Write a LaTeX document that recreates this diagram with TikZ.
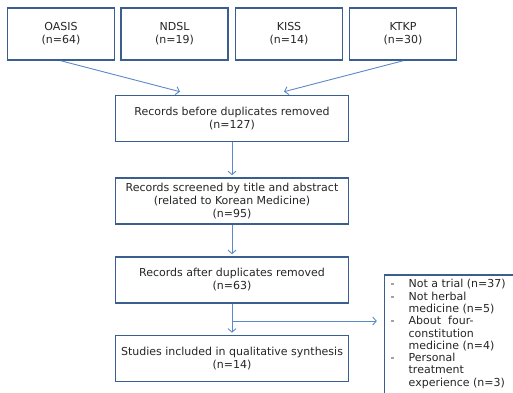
\documentclass[tikz,border=0pt]{standalone}
\usepackage{fontspec}
\setmainfont{DejaVu Sans}
\usetikzlibrary{arrows.meta}
\definecolor{boxc}{HTML}{3A5F8E}
\definecolor{arrc}{HTML}{5B8AC6}
\begin{document}
\begin{tikzpicture}[x=1pt,y=-1pt,
  box/.style={draw=boxc,line width=1.6pt,inner sep=0pt,align=center,
    font=\fontsize{11}{13}\selectfont,text=black!85},
  srcbox/.style={box,minimum width=107pt,minimum height=52pt},
  mainbox/.style={box,minimum width=233pt,minimum height=46pt},
  arr/.style={draw=arrc,line width=0.9pt,-{Straight Barb[length=3.5pt,width=8pt]}}]
\clip (0,0) rectangle (513,392);
\fill[white] (0,0) rectangle (513,392);
\node[srcbox] (oasis) at (61,34) {OASIS\\(n=64)};
\node[srcbox] (ndsl) at (174.5,34) {NDSL\\(n=19)};
\node[srcbox] (kiss) at (289,34) {KISS\\(n=14)};
\node[srcbox] (ktkp) at (403,34) {KTKP\\(n=30)};
\node[mainbox] (rec) at (232,118.5) {Records before duplicates removed\\(n=127)};
\node[mainbox] (scr) at (232,201) {Records screened by title and abstract\\(related to Korean Medicine)\\(n=95)};
\node[mainbox] (aft) at (232,280) {Records after duplicates removed\\(n=63)};
\node[mainbox] (inc) at (232,358.5) {Studies included in qualitative synthesis\\(n=14)};
\node[box,anchor=north west,minimum width=170pt,minimum height=150pt] (excl) at (383.8,274) {};
\node[anchor=north west,inner sep=0pt,font=\fontsize{11}{12.3}\selectfont,text=black!85] (excltext) at (390.5,279)
  {\renewcommand{\arraystretch}{1}\begin{tabular}{@{}l@{\hspace{14pt}}l@{}}
  - & Not a trial (n=37)\\
  - & Not herbal\\
    & medicine (n=5)\\
  - & About\ \ four-\\
    & constitution\\
    & medicine (n=4)\\
  - & Personal\\
    & treatment\\
    & experience (n=3)
  \end{tabular}};
\draw[arr] (oasis.south) -- ([xshift=-52pt,yshift=3pt]rec.north);
\draw[arr] (ktkp.south) -- ([xshift=52pt,yshift=3pt]rec.north);
\draw[arr,shorten >=2pt] (rec.south) -- (scr.north);
\draw[arr,shorten >=2pt] (scr.south) -- (aft.north);
\draw[arr,shorten >=2pt] (aft.south) -- (inc.north);
\coordinate (br) at (232,321);
\draw[arr,shorten >=7pt] (br) -- (excl.west |- br);
\end{tikzpicture}
\end{document}
